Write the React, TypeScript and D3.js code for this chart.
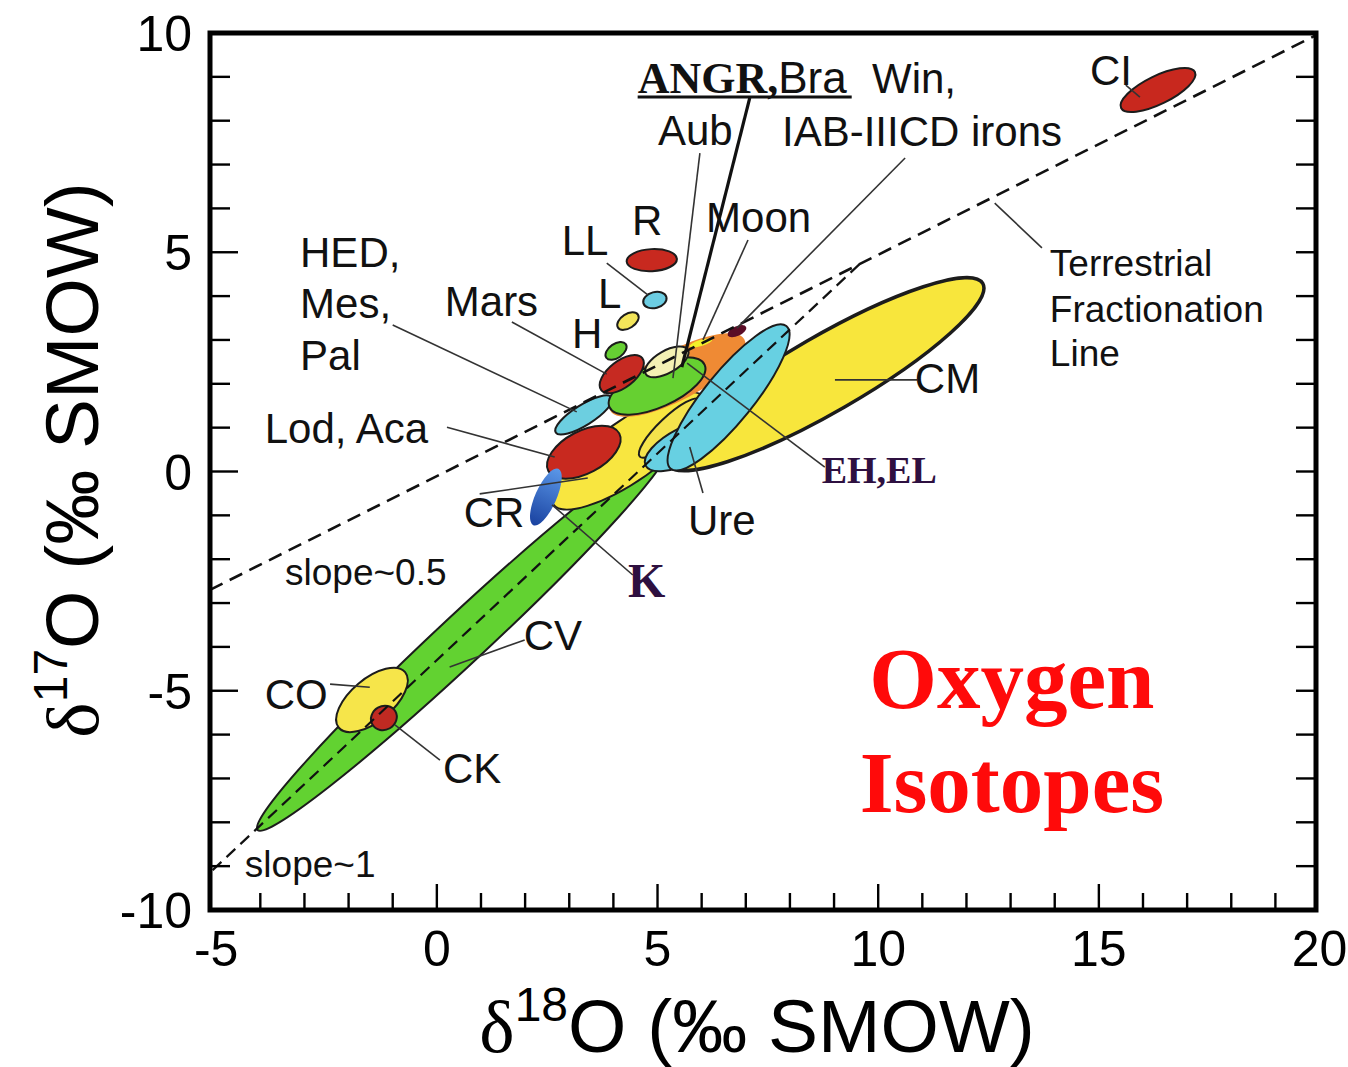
import React from 'react';
import * as d3 from 'd3';

const WIDTH = 1348;
const HEIGHT = 1067;

const SANS = '"Liberation Sans", Arial, Helvetica, sans-serif';
const SERIF = '"Liberation Serif", "Times New Roman", serif';

// meteorite group fields, back to front (delta18O, delta17O, semi axes in permil, tilt in degrees)
const groupNames = ['CV', 'CO', 'CK', 'CM', 'CR', 'CRcore', 'EHEL', 'UreLobe', 'Ure', 'Lod', 'K', 'HED', 'Aub', 'ANGR', 'Moon', 'Win', 'Mars', 'H', 'L', 'LL', 'R', 'CI'];
const center18O = [0.59, -1.47, -1.2, 8.81, 4.35, 5.28, 5.45, 5.64, 6.61, 3.33, 2.47, 3.33, 4.99, 5.21, 5.98, 6.8, 4.19, 4.06, 4.33, 4.94, 4.87, 16.34];
const center17O = [-3.81, -5.21, -5.62, 2.22, 0.47, 0.99, 2.2, 0.6, 1.69, 0.44, -0.58, 1.29, 1.95, 2.5, 2.93, 3.2, 2.22, 2.75, 3.43, 3.91, 4.82, 8.7];
const majorAxis = [6.36, 0.98, 0.3, 4.11, 2.1, 0.94, 1.72, 1.02, 2.08, 0.91, 0.7, 0.75, 1.18, 0.55, 0.27, 0.23, 0.59, 0.27, 0.27, 0.27, 0.57, 0.93];
const minorAxis = [0.55, 0.48, 0.27, 0.86, 0.68, 0.25, 0.56, 0.41, 0.56, 0.48, 0.24, 0.23, 0.48, 0.25, 0.07, 0.11, 0.3, 0.16, 0.16, 0.18, 0.25, 0.32];
const tilt = [43, 40, 30, 30, 35, 43.5, 28, 27, 51, 28, 66, 32, 24, 30, 17, 25, 38, 35, 33, 15, 3, 26];

const groupFill: Record<string, string> = {
  CV: '#62d231', CO: '#f6e54a', CK: '#c02a22', CM: '#f8e63c', CR: '#f8e640', CRcore: '#f4e34c',
  EHEL: '#ef8a34', UreLobe: '#67d0e2', Ure: '#67d0e2', Lod: '#c8291f', K: 'url(#kGrad)', HED: '#6ccfe0',
  Aub: '#66d031', ANGR: '#f4f1b4', Moon: '#f2ef2a', Win: '#5a0c26', Mars: '#c62a22', H: '#66cf33',
  L: '#f3e55a', LL: '#6ccde2', R: '#c8291f', CI: '#c8281e',
};
const noOutline = ['K', 'EHEL', 'Moon', 'Win'];

// reference lines
const tflLine: [number, number][] = [[-5.14, -2.7], [19.92, 9.95]];
const ccamLine: [number, number][] = [[-5.08, -9.09], [9.59, 4.74]];

// leader lines [x1, y1, x2, y2]
const leaders: number[][] = [
  [15.61, 8.81, 15.93, 8.54],
  [13.71, 5.1, 12.64, 6.12],
  [10.61, 7.15, 6.8, 3.27],
  [7.05, 5.28, 6.03, 3.0],
  [5.96, 7.26, 5.35, 2.13],
  [3.85, 4.75, 4.78, 4.03],
  [1.7, 3.41, 3.85, 2.22],
  [-1.0, 3.34, 3.17, 1.36],
  [0.23, 1.01, 2.67, 0.33],
  [0.97, -0.51, 3.42, -0.15],
  [4.44, -2.36, 2.61, -0.76],
  [8.79, 0.1, 5.67, 2.47],
  [10.88, 2.09, 9.02, 2.09],
  [6.03, -0.49, 5.73, 0.56],
  [1.99, -3.84, 0.29, -4.46],
  [-2.42, -4.85, -1.52, -4.92],
  [0.07, -6.58, -0.95, -5.78],
];
const angrLeader = [7.09, 8.52, 5.55, 2.38];
const angrUnderline = [4.55, 9.4, 8.54];

// plain labels, left edge and baseline
const labelText = ['CI', 'Win,', 'IAB-IIICD irons', 'Aub', 'Moon', 'R', 'LL', 'L', 'H', 'Mars', 'HED,', 'Mes,', 'Pal', 'Lod, Aca', 'CR', 'CM', 'Ure', 'CV', 'CO', 'CK'];
const labelX = [14.8, 9.86, 7.82, 5.01, 6.1, 4.42, 2.83, 3.65, 3.06, 0.18, -3.1, -3.1, -3.1, -3.9, 0.61, 10.83, 5.69, 1.97, -3.9, 0.14];
const labelY = [8.81, 8.63, 7.42, 7.45, 5.46, 5.39, 4.94, 3.73, 2.82, 3.55, 4.66, 3.5, 2.31, 0.65, -1.27, 1.79, -1.45, -4.07, -5.42, -7.1];

const smallText = ['Terrestrial', 'Fractionation', 'Line', 'slope~0.5', 'slope~1'];
const smallX = [13.89, 13.89, 13.89, -3.44, -4.35];
const smallY = [4.46, 3.41, 2.41, -2.59, -9.25];

const xTickLabels = [-5, 0, 5, 10, 15, 20];
const yTickLabels = [-10, -5, 0, 5, 10];

const x = d3.scaleLinear().domain([-5.14, 19.92]).range([210, 1316]);
const y = d3.scaleLinear().domain([-10, 10]).range([910, 33]);
const unit = x(1) - x(0);

const App = () => {
  const line = d3.line<[number, number]>().x((d) => x(d[0])).y((d) => y(d[1]));
  const xMinor = d3.range(-4, 20);
  const yMinor = d3.range(-9, 10);

  return (
    <svg width={WIDTH} height={HEIGHT} style={{ position: 'absolute', left: 0, top: 0, background: '#fff' }}>
      <defs>
        <linearGradient id="kGrad" x1="0" y1="0" x2="1" y2="0">
          <stop offset="0%" stopColor="#1a42a0" />
          <stop offset="100%" stopColor="#5a97e8" />
        </linearGradient>
      </defs>

      {/* ellipses */}
      {groupNames.map((g, i) => {
        const cx = x(center18O[i]);
        const cy = y(center17O[i]);
        return (
          <ellipse
            key={g}
            cx={cx}
            cy={cy}
            rx={majorAxis[i] * unit}
            ry={minorAxis[i] * unit}
            transform={`rotate(${-tilt[i]} ${cx} ${cy})`}
            fill={groupFill[g]}
            stroke={noOutline.includes(g) ? 'none' : '#1c1c1c'}
            strokeWidth={g === 'CM' ? 3.5 : 2}
          />
        );
      })}

      {/* fractionation lines */}
      <path d={line(ccamLine) || ''} fill="none" stroke="#111" strokeWidth={2.2} strokeDasharray="12 7" />
      <path d={line(tflLine) || ''} fill="none" stroke="#111" strokeWidth={2.6} strokeDasharray="14 8" />

      {/* leaders */}
      {leaders.map((l, i) => (
        <line key={i} x1={x(l[0])} y1={y(l[1])} x2={x(l[2])} y2={y(l[3])} stroke="#333" strokeWidth={1.6} />
      ))}
      <line x1={x(angrLeader[0])} y1={y(angrLeader[1])} x2={x(angrLeader[2])} y2={y(angrLeader[3])} stroke="#111" strokeWidth={3.2} />
      <line x1={x(angrUnderline[0])} y1={y(angrUnderline[2])} x2={x(angrUnderline[1])} y2={y(angrUnderline[2])} stroke="#111" strokeWidth={3} />

      {/* labels */}
      <g fontFamily={SANS} fontSize={42} fill="#111">
        {labelText.map((t, i) => (
          <text key={t} x={x(labelX[i])} y={y(labelY[i])}>{t}</text>
        ))}
      </g>
      <g fontFamily={SANS} fontSize={37} fill="#111">
        {smallText.map((t, i) => (
          <text key={t} x={x(smallX[i])} y={y(smallY[i])}>{t}</text>
        ))}
      </g>
      <text x={x(4.55)} y={y(8.63)} fontSize={44} fill="#111">
        <tspan fontFamily={SERIF} fontWeight="bold">ANGR,</tspan>
        <tspan fontFamily={SANS}>Bra</tspan>
      </text>
      <text x={x(4.33)} y={y(-2.86)} fontFamily={SERIF} fontWeight="bold" fontSize={48} fill="#2e1040">K</text>
      <text x={x(8.72)} y={y(-0.26)} fontFamily={SERIF} fontWeight="bold" fontSize={38} fill="#2e1040">EH,EL</text>
      <g fontFamily={SERIF} fontWeight="bold" fontSize={87} fill="#ff0a0a" textAnchor="middle">
        <text x={x(13.03)} y={y(-5.39)}>Oxygen</text>
        <text x={x(13.03)} y={y(-7.77)}>Isotopes</text>
      </g>

      {/* frame and ticks */}
      <rect x={210} y={33} width={1316 - 210} height={910 - 33} fill="none" stroke="#000" strokeWidth={5} />
      {xMinor.map((v) => (
        <line key={'xt' + v} x1={x(v)} x2={x(v)} y1={910} y2={910 - (v % 5 === 0 ? 26 : 17)} stroke="#000" strokeWidth={2.4} />
      ))}
      {yMinor.map((v) => (
        <g key={'yt' + v}>
          <line x1={210} x2={210 + (v % 5 === 0 ? 28 : 20)} y1={y(v)} y2={y(v)} stroke="#000" strokeWidth={2.4} />
          <line x1={1316} x2={1316 - 20} y1={y(v)} y2={y(v)} stroke="#000" strokeWidth={2.4} />
        </g>
      ))}
      <g fontFamily={SANS} fontSize={50} fill="#000">
        {xTickLabels.map((v) => (
          <text key={'xl' + v} x={x(v)} y={966} textAnchor="middle">{v}</text>
        ))}
        {yTickLabels.map((v) => (
          <text key={'yl' + v} x={192} y={y(v)} dy="0.36em" textAnchor="end">{v}</text>
        ))}
      </g>

      {/* axis titles */}
      <text x={757} y={1052} textAnchor="middle" fontFamily={SANS} fontSize={75} fill="#000">
        <tspan fontFamily={SERIF}>δ</tspan>
        <tspan fontSize={48} dy={-31}>18</tspan>
        <tspan dy={31}>O (‰ SMOW)</tspan>
      </text>
      <text transform="translate(98,460) rotate(-90)" textAnchor="middle" fontFamily={SANS} fontSize={75} fill="#000">
        <tspan fontFamily={SERIF}>δ</tspan>
        <tspan fontSize={48} dy={-31}>17</tspan>
        <tspan dy={31}>O (‰ SMOW)</tspan>
      </text>
    </svg>
  );
};

export default App;
